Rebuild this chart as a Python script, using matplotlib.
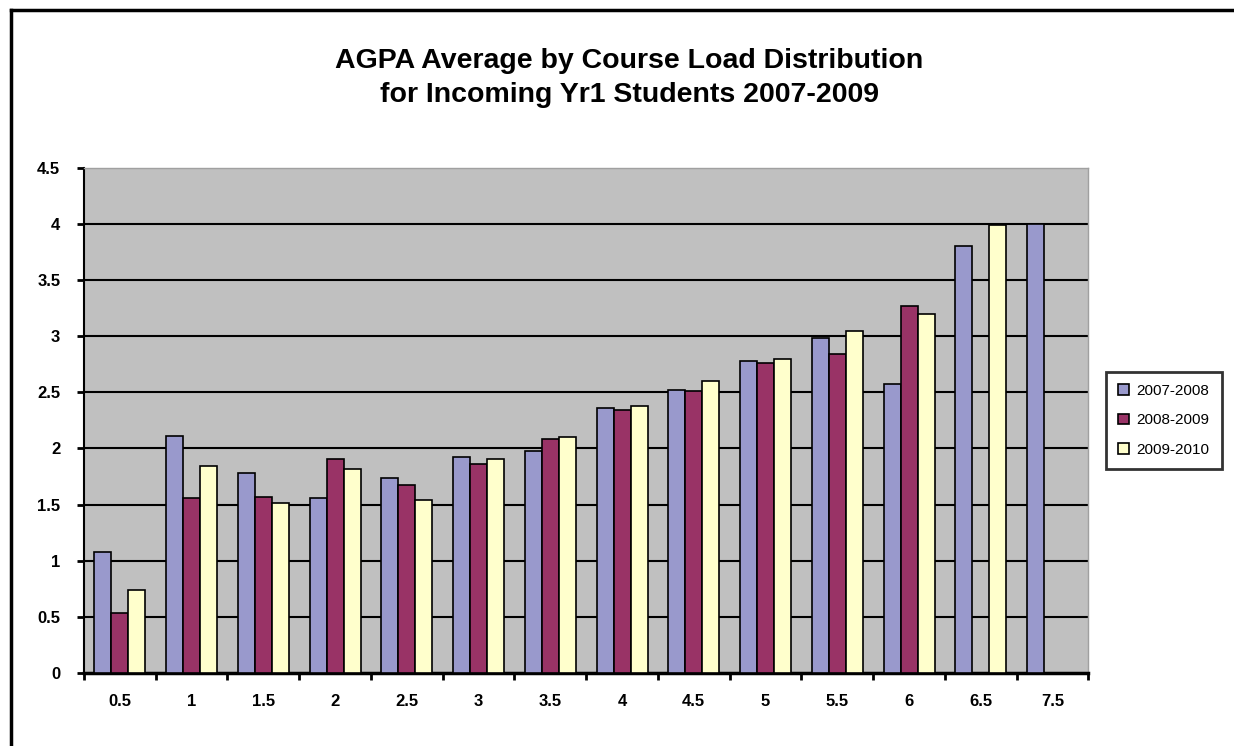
import numpy as np
import matplotlib.pyplot as plt
from matplotlib.lines import Line2D

# data
course_load = ["0.5", "1", "1.5", "2", "2.5", "3", "3.5", "4", "4.5", "5", "5.5", "6", "6.5", "7.5"]
agpa_2007 = [1.08, 2.11, 1.78, 1.56, 1.74, 1.92, 1.98, 2.36, 2.52, 2.78, 2.98, 2.57, 3.80, 4.00]
agpa_2008 = [0.53, 1.56, 1.57, 1.91, 1.67, 1.86, 2.08, 2.34, 2.51, 2.76, 2.84, 3.27, np.nan, np.nan]
agpa_2009 = [0.74, 1.84, 1.51, 1.82, 1.54, 1.91, 2.10, 2.38, 2.60, 2.80, 3.05, 3.20, 3.99, np.nan]
series_names = ["2007-2008", "2008-2009", "2009-2010"]

colors = ["#9999CC", "#993366", "#FFFFCC"]

plt.rcParams["font.family"] = ["Liberation Sans", "DejaVu Sans"]

fig = plt.figure(figsize=(12.34, 7.46), dpi=100)
ax = fig.add_axes([0.068, 0.098, 0.814, 0.677])
ax.set_facecolor("#C0C0C0")

x = np.arange(len(course_load))
w = 0.237
for i, (vals, c, name) in enumerate(zip([agpa_2007, agpa_2008, agpa_2009], colors, series_names)):
    ax.bar(x + (i - 1) * w, vals, width=w, color=c, edgecolor="black",
           linewidth=1.2, label=name, zorder=3)

ax.set_xlim(-0.5, len(course_load) - 0.5)
ax.set_ylim(0, 4.5)
ax.set_yticks(np.arange(0, 4.51, 0.5))
ax.set_yticklabels(["0", "0.5", "1", "1.5", "2", "2.5", "3", "3.5", "4", "4.5"],
                   fontsize=12, fontweight="bold")
ax.set_xticks(x)
ax.set_xticklabels(course_load, fontsize=12, fontweight="bold")
ax.set_xticks(np.arange(-0.5, len(course_load), 1), minor=True)
ax.tick_params(axis="x", which="major", length=0, pad=15)
ax.tick_params(axis="x", which="minor", length=5, width=2, direction="out")
ax.tick_params(axis="y", length=5, width=2, direction="out", pad=12)

for yv in np.arange(0.5, 4.01, 0.5):
    ax.axhline(yv, color="black", linewidth=1.5, zorder=1)

for side in ["top", "right"]:
    ax.spines[side].set_color("#A0A0A0")
    ax.spines[side].set_linewidth(1)
ax.spines["left"].set_linewidth(1.5)
ax.spines["bottom"].set_linewidth(2.5)

fig.text(0.51, 0.895, "AGPA Average by Course Load Distribution\nfor Incoming Yr1 Students 2007-2009",
         ha="center", va="center", fontsize=20.5, fontweight="bold", linespacing=1.4)

leg = ax.legend(loc="center left", bbox_to_anchor=(1.01, 0.5), fontsize=11,
                frameon=True, fancybox=False, handlelength=0.7, handleheight=0.7,
                labelspacing=1.0, borderpad=0.8, handletextpad=0.5)
leg.get_frame().set_edgecolor("black")
leg.get_frame().set_linewidth(2)

# outer chart border (top and left)
fig.add_artist(Line2D([0.009, 0.009], [0.0, 0.987], color="black", linewidth=2.5, transform=fig.transFigure))
fig.add_artist(Line2D([0.009, 1.0], [0.987, 0.987], color="black", linewidth=2.5, transform=fig.transFigure))

fig.savefig("out.png", dpi=100)
